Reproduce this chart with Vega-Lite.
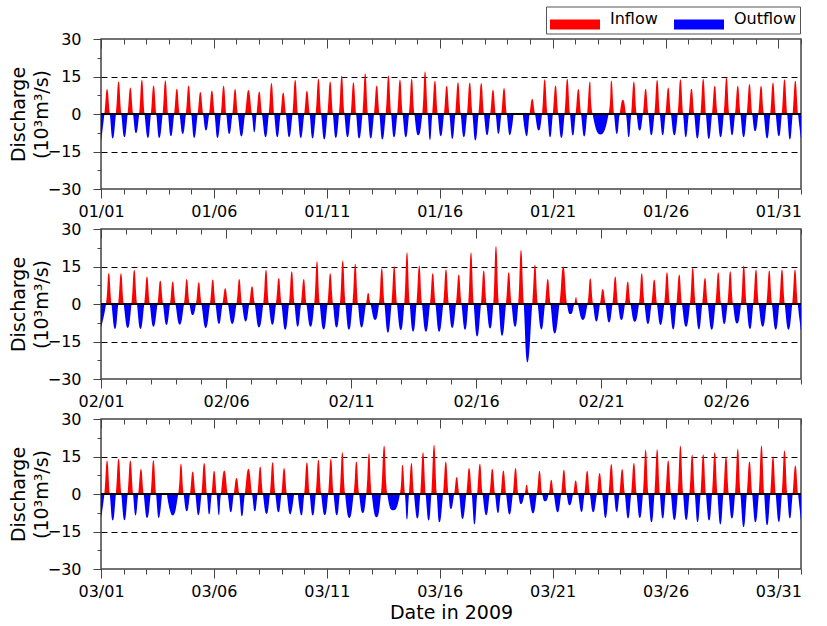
{
"$schema": "https://vega.github.io/schema/vega-lite/v6.json",
"padding": {"left": 8, "top": 5, "right": 5, "bottom": 3},
"bounds": "flush",
"spacing": 40,
"datasets": {
"jan": [
{"t":0,"v":-11.5},
{"t":0.15,"v":0},{"t":0.27,"v":10},{"t":0.39,"v":0},{"t":0.52,"v":-9.8},
{"t":0.66,"v":0},{"t":0.78,"v":13},{"t":0.90,"v":0},{"t":1.04,"v":-9.3},
{"t":1.18,"v":0},{"t":1.30,"v":10.6},{"t":1.42,"v":0},{"t":1.55,"v":-7.6},
{"t":1.69,"v":0},{"t":1.81,"v":13.7},{"t":1.93,"v":0},{"t":2.08,"v":-9.6},
{"t":2.21,"v":0},{"t":2.33,"v":11.4},{"t":2.45,"v":0},{"t":2.58,"v":-9.6},
{"t":2.73,"v":0},{"t":2.85,"v":13.5},{"t":2.97,"v":0},{"t":3.10,"v":-8.9},
{"t":3.24,"v":0},{"t":3.36,"v":10.1},{"t":3.48,"v":0},{"t":3.62,"v":-8},
{"t":3.76,"v":0},{"t":3.88,"v":11.4},{"t":4.00,"v":0},{"t":4.13,"v":-9.6},
{"t":4.28,"v":0},{"t":4.40,"v":8.8},{"t":4.52,"v":0},{"t":4.65,"v":-6.6},
{"t":4.79,"v":0},{"t":4.91,"v":9.4},{"t":5.03,"v":0},{"t":5.16,"v":-9.6},
{"t":5.31,"v":0},{"t":5.43,"v":11.3},{"t":5.55,"v":0},{"t":5.68,"v":-8},
{"t":5.82,"v":0},{"t":5.94,"v":10},{"t":6.06,"v":0},{"t":6.22,"v":-9},
{"t":6.38,"v":0},{"t":6.53,"v":9.6},{"t":6.68,"v":0},{"t":6.79,"v":-7.3},
{"t":6.89,"v":0},{"t":7.01,"v":9},{"t":7.13,"v":0},{"t":7.29,"v":-9.3},
{"t":7.43,"v":0},{"t":7.55,"v":12.4},{"t":7.67,"v":0},{"t":7.81,"v":-9.3},
{"t":7.95,"v":0},{"t":8.07,"v":8.6},{"t":8.19,"v":0},{"t":8.33,"v":-9.3},
{"t":8.48,"v":0},{"t":8.60,"v":13.7},{"t":8.72,"v":0},{"t":8.85,"v":-9.6},
{"t":9.00,"v":0},{"t":9.12,"v":9.3},{"t":9.24,"v":0},{"t":9.37,"v":-9.8},
{"t":9.51,"v":0},{"t":9.63,"v":14.1},{"t":9.75,"v":0},{"t":9.89,"v":-10.2},
{"t":10.03,"v":0},{"t":10.15,"v":13},{"t":10.27,"v":0},{"t":10.40,"v":-9.6},
{"t":10.54,"v":0},{"t":10.66,"v":15.3},{"t":10.78,"v":0},{"t":10.92,"v":-9.3},
{"t":11.06,"v":0},{"t":11.18,"v":12.7},{"t":11.30,"v":0},{"t":11.43,"v":-9.8},
{"t":11.58,"v":0},{"t":11.70,"v":16.3},{"t":11.82,"v":0},{"t":11.95,"v":-9.8},
{"t":12.09,"v":0},{"t":12.21,"v":11.4},{"t":12.33,"v":0},{"t":12.46,"v":-10.2},
{"t":12.61,"v":0},{"t":12.73,"v":15.4},{"t":12.85,"v":0},{"t":12.98,"v":-9.3},
{"t":13.12,"v":0},{"t":13.24,"v":13.8},{"t":13.36,"v":0},{"t":13.50,"v":-9.3},
{"t":13.64,"v":0},{"t":13.76,"v":14.1},{"t":13.88,"v":0},{"t":14.05,"v":-8.5},
{"t":14.23,"v":0},{"t":14.35,"v":17},{"t":14.47,"v":0},{"t":14.57,"v":-10.4},
{"t":14.67,"v":0},{"t":14.79,"v":13.3},{"t":14.91,"v":0},{"t":15.05,"v":-8.9},
{"t":15.19,"v":0},{"t":15.31,"v":11.3},{"t":15.43,"v":0},{"t":15.56,"v":-10},
{"t":15.69,"v":0},{"t":15.81,"v":12.7},{"t":15.93,"v":0},{"t":16.07,"v":-9.3},
{"t":16.21,"v":0},{"t":16.33,"v":12.6},{"t":16.45,"v":0},{"t":16.58,"v":-10.6},
{"t":16.72,"v":0},{"t":16.84,"v":12.4},{"t":16.96,"v":0},{"t":17.10,"v":-8.5},
{"t":17.24,"v":0},{"t":17.36,"v":9.7},{"t":17.48,"v":0},{"t":17.60,"v":-8},
{"t":17.73,"v":0},{"t":17.85,"v":10.4},{"t":17.97,"v":0},{"t":18.11,"v":-8.5},
{"t":18.27,"v":0},{"t":18.68,"v":0},{"t":18.85,"v":-8.9},
{"t":18.98,"v":0},{"t":19.10,"v":6},{"t":19.22,"v":0},{"t":19.38,"v":-6.6},
{"t":19.53,"v":0},{"t":19.65,"v":13.9},{"t":19.77,"v":0},{"t":19.89,"v":-9.3},
{"t":20.01,"v":0},{"t":20.13,"v":11.4},{"t":20.25,"v":0},{"t":20.39,"v":-9.6},
{"t":20.53,"v":0},{"t":20.65,"v":14.1},{"t":20.77,"v":0},{"t":20.90,"v":-8.6},
{"t":21.02,"v":0},{"t":21.14,"v":10},{"t":21.26,"v":0},{"t":21.40,"v":-9},
{"t":21.53,"v":0},{"t":21.65,"v":13},{"t":21.77,"v":0},{"t":22.12,"v":-8.2},
{"t":22.48,"v":0},{"t":22.60,"v":13.4},{"t":22.72,"v":0},{"t":22.85,"v":-8},
{"t":22.97,"v":0},{"t":23.11,"v":5.7},{"t":23.25,"v":0},{"t":23.37,"v":-9.3},
{"t":23.48,"v":0},{"t":23.60,"v":13},{"t":23.72,"v":0},{"t":23.86,"v":-6.6},
{"t":24.00,"v":0},{"t":24.12,"v":10.1},{"t":24.24,"v":0},{"t":24.37,"v":-8.5},
{"t":24.51,"v":0},{"t":24.63,"v":13.7},{"t":24.75,"v":0},{"t":24.88,"v":-8.5},
{"t":25.00,"v":0},{"t":25.12,"v":10.6},{"t":25.24,"v":0},{"t":25.39,"v":-8.5},
{"t":25.54,"v":0},{"t":25.66,"v":13.9},{"t":25.78,"v":0},{"t":25.90,"v":-9.3},
{"t":26.03,"v":0},{"t":26.15,"v":10.1},{"t":26.27,"v":0},{"t":26.41,"v":-9.8},
{"t":26.55,"v":0},{"t":26.67,"v":14.1},{"t":26.79,"v":0},{"t":26.92,"v":-10},
{"t":27.06,"v":0},{"t":27.18,"v":11.3},{"t":27.30,"v":0},{"t":27.44,"v":-9.3},
{"t":27.58,"v":0},{"t":27.70,"v":14.7},{"t":27.82,"v":0},{"t":27.95,"v":-8.5},
{"t":28.08,"v":0},{"t":28.20,"v":11.3},{"t":28.32,"v":0},{"t":28.46,"v":-9.3},
{"t":28.60,"v":0},{"t":28.72,"v":12},{"t":28.84,"v":0},{"t":28.97,"v":-6.9},
{"t":29.11,"v":0},{"t":29.23,"v":11.3},{"t":29.35,"v":0},{"t":29.50,"v":-9.8},
{"t":29.64,"v":0},{"t":29.76,"v":12.6},{"t":29.88,"v":0},{"t":30.02,"v":-8.9},
{"t":30.15,"v":0},{"t":30.27,"v":13.9},{"t":30.39,"v":0},{"t":30.51,"v":-10.2},
{"t":30.63,"v":0},{"t":30.75,"v":13.3},{"t":30.87,"v":0},{"t":31,"v":-9.8}
],
"feb": [
{"t":0,"v":-9.4},
{"t":0.20,"v":0},{"t":0.31,"v":12.4},{"t":0.42,"v":0},{"t":0.56,"v":-10},
{"t":0.69,"v":0},{"t":0.80,"v":12.3},{"t":0.91,"v":0},{"t":1.07,"v":-9.6},
{"t":1.22,"v":0},{"t":1.33,"v":13.7},{"t":1.44,"v":0},{"t":1.58,"v":-10},
{"t":1.73,"v":0},{"t":1.84,"v":11},{"t":1.95,"v":0},{"t":2.10,"v":-9.1},
{"t":2.26,"v":0},{"t":2.37,"v":9.4},{"t":2.48,"v":0},{"t":2.62,"v":-8.4},
{"t":2.76,"v":0},{"t":2.87,"v":9},{"t":2.98,"v":0},{"t":3.15,"v":-8.3},
{"t":3.32,"v":0},{"t":3.43,"v":10},{"t":3.54,"v":0},{"t":3.67,"v":-4.4},
{"t":3.80,"v":0},{"t":3.91,"v":8.7},{"t":4.02,"v":0},{"t":4.19,"v":-9.6},
{"t":4.36,"v":0},{"t":4.47,"v":9.8},{"t":4.58,"v":0},{"t":4.72,"v":-8},
{"t":4.86,"v":0},{"t":4.97,"v":6.3},{"t":5.08,"v":0},{"t":5.25,"v":-8},
{"t":5.42,"v":0},{"t":5.53,"v":10},{"t":5.64,"v":0},{"t":5.79,"v":-7},
{"t":5.93,"v":0},{"t":6.04,"v":7.1},{"t":6.15,"v":0},{"t":6.32,"v":-9.4},
{"t":6.49,"v":0},{"t":6.60,"v":13.7},{"t":6.71,"v":0},{"t":6.86,"v":-8.3},
{"t":7.00,"v":0},{"t":7.11,"v":10.4},{"t":7.22,"v":0},{"t":7.37,"v":-10.3},
{"t":7.52,"v":0},{"t":7.63,"v":13.1},{"t":7.74,"v":0},{"t":7.87,"v":-9.1},
{"t":8.00,"v":0},{"t":8.11,"v":10},{"t":8.22,"v":0},{"t":8.38,"v":-9.1},
{"t":8.53,"v":0},{"t":8.64,"v":17.1},{"t":8.75,"v":0},{"t":8.91,"v":-10.2},
{"t":9.06,"v":0},{"t":9.17,"v":12.3},{"t":9.28,"v":0},{"t":9.42,"v":-9.4},
{"t":9.56,"v":0},{"t":9.67,"v":17.4},{"t":9.78,"v":0},{"t":9.92,"v":-10.3},
{"t":10.06,"v":0},{"t":10.17,"v":16.1},{"t":10.28,"v":0},{"t":10.43,"v":-9.4},
{"t":10.60,"v":0},{"t":10.69,"v":4.4},{"t":10.78,"v":0},{"t":10.96,"v":-6.4},
{"t":11.12,"v":0},{"t":11.23,"v":14.3},{"t":11.34,"v":0},{"t":11.48,"v":-11.5},
{"t":11.62,"v":0},{"t":11.73,"v":15},{"t":11.84,"v":0},{"t":11.99,"v":-10.4},
{"t":12.13,"v":0},{"t":12.24,"v":20.7},{"t":12.35,"v":0},{"t":12.49,"v":-11},
{"t":12.62,"v":0},{"t":12.73,"v":15.4},{"t":12.84,"v":0},{"t":13.00,"v":-11.1},
{"t":13.16,"v":0},{"t":13.27,"v":12.3},{"t":13.38,"v":0},{"t":13.53,"v":-11.1},
{"t":13.69,"v":0},{"t":13.80,"v":13.9},{"t":13.91,"v":0},{"t":14.05,"v":-9.6},
{"t":14.20,"v":0},{"t":14.31,"v":11.8},{"t":14.42,"v":0},{"t":14.56,"v":-10.3},
{"t":14.69,"v":0},{"t":14.80,"v":20.7},{"t":14.91,"v":0},{"t":15.05,"v":-13},
{"t":15.20,"v":0},{"t":15.31,"v":13.4},{"t":15.42,"v":0},{"t":15.56,"v":-9.8},
{"t":15.69,"v":0},{"t":15.80,"v":23.2},{"t":15.91,"v":0},{"t":16.05,"v":-12.7},
{"t":16.20,"v":0},{"t":16.31,"v":12.7},{"t":16.42,"v":0},{"t":16.56,"v":-9.1},
{"t":16.69,"v":0},{"t":16.80,"v":21.7},{"t":16.91,"v":0},{"t":17.06,"v":-23.4},
{"t":17.25,"v":0},{"t":17.36,"v":15.7},{"t":17.47,"v":0},{"t":17.62,"v":-10.2},
{"t":17.76,"v":0},{"t":17.87,"v":10},{"t":17.98,"v":0},{"t":18.15,"v":-11.8},
{"t":18.34,"v":0},{"t":18.49,"v":15},{"t":18.64,"v":0},{"t":18.80,"v":-4},
{"t":18.93,"v":0},{"t":19.00,"v":2.7},{"t":19.07,"v":0},{"t":19.27,"v":-6.4},
{"t":19.46,"v":0},{"t":19.57,"v":10.3},{"t":19.68,"v":0},{"t":19.82,"v":-7},
{"t":19.96,"v":0},{"t":20.07,"v":6},{"t":20.18,"v":0},{"t":20.32,"v":-7.4},
{"t":20.46,"v":0},{"t":20.57,"v":11},{"t":20.68,"v":0},{"t":20.82,"v":-6.4},
{"t":20.96,"v":0},{"t":21.07,"v":9},{"t":21.18,"v":0},{"t":21.35,"v":-7.1},
{"t":21.52,"v":0},{"t":21.63,"v":12.3},{"t":21.74,"v":0},{"t":21.88,"v":-8},
{"t":22.02,"v":0},{"t":22.13,"v":9.8},{"t":22.24,"v":0},{"t":22.38,"v":-8.4},
{"t":22.53,"v":0},{"t":22.64,"v":12.7},{"t":22.75,"v":0},{"t":22.89,"v":-10.2},
{"t":23.02,"v":0},{"t":23.13,"v":11.8},{"t":23.24,"v":0},{"t":23.40,"v":-9.1},
{"t":23.56,"v":0},{"t":23.67,"v":14.5},{"t":23.78,"v":0},{"t":23.92,"v":-10.2},
{"t":24.05,"v":0},{"t":24.16,"v":10.4},{"t":24.27,"v":0},{"t":24.43,"v":-10.3},
{"t":24.58,"v":0},{"t":24.69,"v":12.7},{"t":24.80,"v":0},{"t":24.93,"v":-8},
{"t":25.06,"v":0},{"t":25.17,"v":13.1},{"t":25.28,"v":0},{"t":25.44,"v":-7.8},
{"t":25.60,"v":0},{"t":25.71,"v":15.4},{"t":25.82,"v":0},{"t":25.96,"v":-10},
{"t":26.09,"v":0},{"t":26.20,"v":13.8},{"t":26.31,"v":0},{"t":26.47,"v":-9.1},
{"t":26.62,"v":0},{"t":26.73,"v":13.4},{"t":26.84,"v":0},{"t":26.99,"v":-10.3},
{"t":27.13,"v":0},{"t":27.24,"v":13.8},{"t":27.35,"v":0},{"t":27.50,"v":-10.3},
{"t":27.65,"v":0},{"t":27.76,"v":13.8},{"t":27.87,"v":0},{"t":28,"v":-10.7}
],
"mar": [
{"t":0,"v":-9.6},
{"t":0.15,"v":0},{"t":0.27,"v":13.4},{"t":0.39,"v":0},{"t":0.52,"v":-10.6},
{"t":0.66,"v":0},{"t":0.78,"v":14.1},{"t":0.90,"v":0},{"t":1.04,"v":-10.5},
{"t":1.18,"v":0},{"t":1.30,"v":13.4},{"t":1.42,"v":0},{"t":1.53,"v":-8.6},
{"t":1.65,"v":0},{"t":1.77,"v":10},{"t":1.89,"v":0},{"t":2.04,"v":-9.6},
{"t":2.20,"v":0},{"t":2.32,"v":13.5},{"t":2.44,"v":0},{"t":2.56,"v":-9.6},
{"t":2.70,"v":0},{"t":2.92,"v":0},{"t":3.17,"v":-8.6},
{"t":3.42,"v":0},{"t":3.54,"v":12.1},{"t":3.66,"v":0},{"t":3.80,"v":-6.9},
{"t":3.94,"v":0},{"t":4.06,"v":9},{"t":4.18,"v":0},{"t":4.31,"v":-8.5},
{"t":4.45,"v":0},{"t":4.57,"v":12.4},{"t":4.69,"v":0},{"t":4.79,"v":-8.2},
{"t":4.90,"v":0},{"t":5.01,"v":9.3},{"t":5.12,"v":0},{"t":5.22,"v":-8.5},
{"t":5.31,"v":0},{"t":5.46,"v":9.4},{"t":5.61,"v":0},{"t":5.75,"v":-7.3},
{"t":5.88,"v":0},{"t":6.00,"v":6.4},{"t":6.12,"v":0},{"t":6.24,"v":-8.9},
{"t":6.37,"v":0},{"t":6.53,"v":10.1},{"t":6.69,"v":0},{"t":6.81,"v":-6.9},
{"t":6.93,"v":0},{"t":7.05,"v":11},{"t":7.17,"v":0},{"t":7.33,"v":-8},
{"t":7.48,"v":0},{"t":7.60,"v":12.7},{"t":7.72,"v":0},{"t":7.86,"v":-7.3},
{"t":7.99,"v":0},{"t":8.11,"v":10.4},{"t":8.23,"v":0},{"t":8.38,"v":-8.2},
{"t":8.55,"v":0},{"t":8.72,"v":0},{"t":8.87,"v":-8.6},
{"t":9.00,"v":0},{"t":9.12,"v":12.7},{"t":9.24,"v":0},{"t":9.38,"v":-8.6},
{"t":9.51,"v":0},{"t":9.63,"v":13.7},{"t":9.75,"v":0},{"t":9.91,"v":-8.5},
{"t":10.06,"v":0},{"t":10.18,"v":14.1},{"t":10.30,"v":0},{"t":10.44,"v":-8.5},
{"t":10.57,"v":0},{"t":10.69,"v":16.7},{"t":10.81,"v":0},{"t":11.00,"v":-9.6},
{"t":11.19,"v":0},{"t":11.31,"v":13},{"t":11.43,"v":0},{"t":11.59,"v":-7.6},
{"t":11.75,"v":0},{"t":11.87,"v":16.3},{"t":11.99,"v":0},{"t":12.20,"v":-9.3},
{"t":12.40,"v":0},{"t":12.54,"v":19.3},{"t":12.68,"v":0},{"t":12.96,"v":-6.5},
{"t":13.24,"v":0},{"t":13.35,"v":11.7},{"t":13.46,"v":0},{"t":13.55,"v":-10.2},
{"t":13.64,"v":0},{"t":13.75,"v":12.4},{"t":13.86,"v":0},{"t":14.01,"v":-9.8},
{"t":14.14,"v":0},{"t":14.26,"v":16.7},{"t":14.38,"v":0},{"t":14.51,"v":-10.6},
{"t":14.63,"v":0},{"t":14.75,"v":19.7},{"t":14.87,"v":0},{"t":14.99,"v":-11.3},
{"t":15.15,"v":0},{"t":15.27,"v":13},{"t":15.39,"v":0},{"t":15.50,"v":-6},
{"t":15.64,"v":0},{"t":15.75,"v":6.8},{"t":15.86,"v":0},{"t":16.01,"v":-10},
{"t":16.18,"v":0},{"t":16.30,"v":10.4},{"t":16.42,"v":0},{"t":16.54,"v":-12.2},
{"t":16.66,"v":0},{"t":16.78,"v":12.1},{"t":16.90,"v":0},{"t":17.06,"v":-8.5},
{"t":17.21,"v":0},{"t":17.33,"v":10.1},{"t":17.45,"v":0},{"t":17.58,"v":-7.6},
{"t":17.70,"v":0},{"t":17.82,"v":9.4},{"t":17.94,"v":0},{"t":18.09,"v":-8.2},
{"t":18.24,"v":0},{"t":18.36,"v":10.4},{"t":18.48,"v":0},{"t":18.61,"v":-4},
{"t":18.76,"v":0},{"t":18.85,"v":3.7},{"t":18.94,"v":0},{"t":19.13,"v":-7.8},
{"t":19.30,"v":0},{"t":19.42,"v":9.3},{"t":19.54,"v":0},{"t":19.68,"v":-2.9},
{"t":19.83,"v":0},{"t":19.94,"v":5.7},{"t":20.05,"v":0},{"t":20.22,"v":-7.3},
{"t":20.38,"v":0},{"t":20.50,"v":9.7},{"t":20.62,"v":0},{"t":20.76,"v":-4.5},
{"t":20.91,"v":0},{"t":21.02,"v":5.4},{"t":21.13,"v":0},{"t":21.28,"v":-7.2},
{"t":21.41,"v":0},{"t":21.53,"v":9.3},{"t":21.65,"v":0},{"t":21.80,"v":-7.3},
{"t":21.96,"v":0},{"t":22.08,"v":8.4},{"t":22.20,"v":0},{"t":22.34,"v":-9.6},
{"t":22.48,"v":0},{"t":22.60,"v":12},{"t":22.72,"v":0},{"t":22.84,"v":-7.2},
{"t":22.96,"v":0},{"t":23.08,"v":10},{"t":23.20,"v":0},{"t":23.34,"v":-9.8},
{"t":23.48,"v":0},{"t":23.60,"v":12.4},{"t":23.72,"v":0},{"t":23.86,"v":-9.6},
{"t":24.00,"v":0},{"t":24.12,"v":17.7},{"t":24.24,"v":0},{"t":24.38,"v":-11.3},
{"t":24.51,"v":0},{"t":24.63,"v":17.9},{"t":24.75,"v":0},{"t":24.88,"v":-9.8},
{"t":25.00,"v":0},{"t":25.12,"v":13.4},{"t":25.24,"v":0},{"t":25.39,"v":-10.4},
{"t":25.54,"v":0},{"t":25.66,"v":19.3},{"t":25.78,"v":0},{"t":25.92,"v":-10.4},
{"t":26.06,"v":0},{"t":26.18,"v":15.7},{"t":26.30,"v":0},{"t":26.42,"v":-11.3},
{"t":26.55,"v":0},{"t":26.67,"v":15.9},{"t":26.79,"v":0},{"t":26.93,"v":-10.6},
{"t":27.06,"v":0},{"t":27.18,"v":16.7},{"t":27.30,"v":0},{"t":27.43,"v":-12.2},
{"t":27.56,"v":0},{"t":27.68,"v":15},{"t":27.80,"v":0},{"t":27.94,"v":-9.8},
{"t":28.08,"v":0},{"t":28.20,"v":18.1},{"t":28.32,"v":0},{"t":28.46,"v":-13.3},
{"t":28.60,"v":0},{"t":28.72,"v":13},{"t":28.84,"v":0},{"t":28.98,"v":-11.3},
{"t":29.13,"v":0},{"t":29.25,"v":19.4},{"t":29.37,"v":0},{"t":29.50,"v":-12.5},
{"t":29.64,"v":0},{"t":29.76,"v":15},{"t":29.88,"v":0},{"t":30.02,"v":-11.2},
{"t":30.15,"v":0},{"t":30.27,"v":17.4},{"t":30.39,"v":0},{"t":30.51,"v":-9.8},
{"t":30.63,"v":0},{"t":30.75,"v":11.4},{"t":30.87,"v":0},{"t":31,"v":-10.6}
]
},
"resolve": {"scale": {"color": "independent"}, "legend": {"color": "independent"}},
"vconcat": [
{
"width": 700, "height": 150,
"data": {"name": "jan"},
"resolve": {"axis": {"x": "independent", "y": "independent"}},
"layer": [
{
"transform": [{"filter": "datum.t <= 18.27"}],
"mark": {"type": "area", "interpolate": "cardinal", "tension": -0.5, "color": {"gradient": "linear", "x1": 0, "y1": 0, "x2": 0, "y2": 1, "stops": [{"offset": 0.5965, "color": "#ff0000"}, {"offset": 0.5965, "color": "#0000ff"}]}},
"encoding": {
"x": {"field": "t", "type": "quantitative", "scale": {"domain": [0, 31], "nice": false, "zero": false},
"axis": {"orient": "bottom", "values": [0,5,10,15,20,25,30], "tickSize": 9, "labelPadding": 5, "labelExpr": "'01/' + (datum.value < 9 ? '0' : '') + (datum.value + 1)", "title": null}},
"y": {"field": "v", "type": "quantitative", "scale": {"domain": [-30, 30], "nice": false},
"axis": {"orient": "left", "values": [-30,-15,0,15,30], "tickSize": 8, "labelPadding": 12, "title": ["Discharge", "(10³m³/s)"], "titlePadding": -4, "titleLineHeight": 23, "grid": true, "gridColor": "black", "gridDash": [6,4], "gridWidth": 1, "gridOpacity": {"condition": {"test": "abs(datum.value) == 15", "value": 1}, "value": 0}}}
}
},
{
"transform": [{"filter": "datum.t >= 18.68"}],
"mark": {"type": "area", "interpolate": "cardinal", "tension": -0.5, "color": {"gradient": "linear", "x1": 0, "y1": 0, "x2": 0, "y2": 1, "stops": [{"offset": 0.5904, "color": "#ff0000"}, {"offset": 0.5904, "color": "#0000ff"}]}},
"encoding": {
"x": {"field": "t", "type": "quantitative", "axis": null},
"y": {"field": "v", "type": "quantitative", "axis": null}
}
},
{
"transform": [{"filter": "datum.v > 99"}],
"mark": {"type": "area"},
"encoding": {
"x": {"field": "t", "type": "quantitative", "axis": {"orient": "bottom", "values": [0,1,2,3,4,5,6,7,8,9,10,11,12,13,14,15,16,17,18,19,20,21,22,23,24,25,26,27,28,29,30,31], "tickSize": 5, "labels": false, "title": null}},
"y": {"field": "v", "type": "quantitative", "axis": {"orient": "left", "values": [-22.5,-7.5,7.5,22.5], "tickSize": 4, "labels": false, "title": null}},
"color": {"datum": "Inflow", "type": "nominal", "scale": {"domain": ["Inflow", "Outflow"], "range": ["#ff0000", "#0000ff"]},
"legend": {"title": null, "orient": "none", "legendX": 445, "legendY": -32.5, "direction": "horizontal", "symbolType": "M-5,0.2L5,0.2L5,2.2L-5,2.2Z", "symbolSize": 100, "symbolStrokeWidth": 0, "symbolOffset": 17, "labelOffset": 27, "columnPadding": 16, "padding": 4, "labelFont": "DejaVu Sans", "labelFontSize": 16, "labelColor": "black", "strokeColor": "#555", "fillColor": "white", "symbolOpacity": 1}}
}
},
{
"mark": {"type": "rule", "color": "black", "strokeWidth": 1.5},
"encoding": {
"x": {"datum": 0, "type": "quantitative", "axis": {"orient": "top", "values": [0,1,2,3,4,5,6,7,8,9,10,11,12,13,14,15,16,17,18,19,20,21,22,23,24,25,26,27,28,29,30,31], "labels": false, "title": null, "tickSize": {"condition": {"test": "datum.value % 5 == 0", "value": -9}, "value": -5}}},
"x2": {"datum": 31},
"y": {"datum": 0, "type": "quantitative", "axis": null}
}
}
]
},
{
"width": 700, "height": 150,
"data": {"name": "feb"},
"resolve": {"axis": {"x": "independent", "y": "independent"}},
"layer": [
{
"mark": {"type": "area", "interpolate": "cardinal", "tension": -0.5, "color": {"gradient": "linear", "x1": 0, "y1": 0, "x2": 0, "y2": 1, "stops": [{"offset": 0.4979, "color": "#ff0000"}, {"offset": 0.4979, "color": "#0000ff"}]}},
"encoding": {
"x": {"field": "t", "type": "quantitative", "scale": {"domain": [0, 28], "nice": false, "zero": false},
"axis": {"orient": "bottom", "values": [0,5,10,15,20,25], "tickSize": 9, "labelPadding": 5, "labelExpr": "'02/' + (datum.value < 9 ? '0' : '') + (datum.value + 1)", "title": null}},
"y": {"field": "v", "type": "quantitative", "scale": {"domain": [-30, 30], "nice": false},
"axis": {"orient": "left", "values": [-30,-15,0,15,30], "tickSize": 8, "labelPadding": 12, "title": ["Discharge", "(10³m³/s)"], "titlePadding": -4, "titleLineHeight": 23, "grid": true, "gridColor": "black", "gridDash": [6,4], "gridWidth": 1, "gridOpacity": {"condition": {"test": "abs(datum.value) == 15", "value": 1}, "value": 0}}}
}
},
{
"transform": [{"filter": "datum.v > 99"}],
"mark": {"type": "area"},
"encoding": {
"x": {"field": "t", "type": "quantitative", "axis": {"orient": "bottom", "values": [0,1,2,3,4,5,6,7,8,9,10,11,12,13,14,15,16,17,18,19,20,21,22,23,24,25,26,27,28], "tickSize": 5, "labels": false, "title": null}},
"y": {"field": "v", "type": "quantitative", "axis": {"orient": "left", "values": [-22.5,-7.5,7.5,22.5], "tickSize": 4, "labels": false, "title": null}}
}
},
{
"mark": {"type": "rule", "color": "black", "strokeWidth": 1.5},
"encoding": {
"x": {"datum": 0, "type": "quantitative", "axis": {"orient": "top", "values": [0,1,2,3,4,5,6,7,8,9,10,11,12,13,14,15,16,17,18,19,20,21,22,23,24,25,26,27,28], "labels": false, "title": null, "tickSize": {"condition": {"test": "datum.value % 5 == 0", "value": -9}, "value": -5}}},
"x2": {"datum": 28},
"y": {"datum": 0, "type": "quantitative", "axis": null}
}
}
]
},
{
"width": 700, "height": 150,
"data": {"name": "mar"},
"resolve": {"axis": {"x": "independent", "y": "independent"}},
"layer": [
{
"transform": [{"filter": "datum.t <= 2.7"}],
"mark": {"type": "area", "interpolate": "cardinal", "tension": -0.5, "color": {"gradient": "linear", "x1": 0, "y1": 0, "x2": 0, "y2": 1, "stops": [{"offset": 0.5709, "color": "#ff0000"}, {"offset": 0.5709, "color": "#0000ff"}]}},
"encoding": {
"x": {"field": "t", "type": "quantitative", "scale": {"domain": [0, 31], "nice": false, "zero": false},
"axis": {"orient": "bottom", "values": [0,5,10,15,20,25,30], "tickSize": 9, "labelPadding": 5, "labelExpr": "'03/' + (datum.value < 9 ? '0' : '') + (datum.value + 1)", "title": "Date in 2009", "titlePadding": 4}},
"y": {"field": "v", "type": "quantitative", "scale": {"domain": [-30, 30], "nice": false},
"axis": {"orient": "left", "values": [-30,-15,0,15,30], "tickSize": 8, "labelPadding": 12, "title": ["Discharge", "(10³m³/s)"], "titlePadding": -4, "titleLineHeight": 23, "grid": true, "gridColor": "black", "gridDash": [6,4], "gridWidth": 1, "gridOpacity": {"condition": {"test": "abs(datum.value) == 15", "value": 1}, "value": 0}}}
}
},
{
"transform": [{"filter": "datum.t >= 2.92 && datum.t <= 8.55"}],
"mark": {"type": "area", "interpolate": "cardinal", "tension": -0.5, "color": {"gradient": "linear", "x1": 0, "y1": 0, "x2": 0, "y2": 1, "stops": [{"offset": 0.588, "color": "#ff0000"}, {"offset": 0.588, "color": "#0000ff"}]}},
"encoding": {
"x": {"field": "t", "type": "quantitative", "axis": null},
"y": {"field": "v", "type": "quantitative", "axis": null}
}
},
{
"transform": [{"filter": "datum.t >= 8.72"}],
"mark": {"type": "area", "interpolate": "cardinal", "tension": -0.5, "color": {"gradient": "linear", "x1": 0, "y1": 0, "x2": 0, "y2": 1, "stops": [{"offset": 0.597, "color": "#ff0000"}, {"offset": 0.597, "color": "#0000ff"}]}},
"encoding": {
"x": {"field": "t", "type": "quantitative", "axis": null},
"y": {"field": "v", "type": "quantitative", "axis": null}
}
},
{
"transform": [{"filter": "datum.v > 99"}],
"mark": {"type": "area"},
"encoding": {
"x": {"field": "t", "type": "quantitative", "axis": {"orient": "bottom", "values": [0,1,2,3,4,5,6,7,8,9,10,11,12,13,14,15,16,17,18,19,20,21,22,23,24,25,26,27,28,29,30,31], "tickSize": 5, "labels": false, "title": null}},
"y": {"field": "v", "type": "quantitative", "axis": {"orient": "left", "values": [-22.5,-7.5,7.5,22.5], "tickSize": 4, "labels": false, "title": null}}
}
},
{
"mark": {"type": "rule", "color": "black", "strokeWidth": 1.5},
"encoding": {
"x": {"datum": 0, "type": "quantitative", "axis": {"orient": "top", "values": [0,1,2,3,4,5,6,7,8,9,10,11,12,13,14,15,16,17,18,19,20,21,22,23,24,25,26,27,28,29,30,31], "labels": false, "title": null, "tickSize": {"condition": {"test": "datum.value % 5 == 0", "value": -9}, "value": -5}}},
"x2": {"datum": 31},
"y": {"datum": 0, "type": "quantitative", "axis": null}
}
}
]
}
],
"config": {
"font": "DejaVu Sans",
"view": {"stroke": "#444", "strokeWidth": 1.5},
"axis": {"domain": false, "grid": false, "labelFont": "DejaVu Sans", "labelFontSize": 16, "labelColor": "black", "titleFont": "DejaVu Sans", "titleFontSize": 19, "titleFontWeight": "normal", "titleColor": "black", "tickColor": "#444", "tickWidth": 1, "labelFlush": false, "labelOverlap": false}
}
}
